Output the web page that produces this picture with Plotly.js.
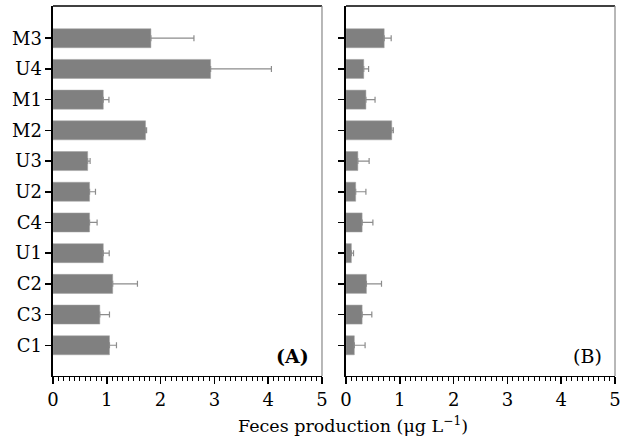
<!DOCTYPE html>
<html><head><meta charset="utf-8">
<script src="https://cdn.plot.ly/plotly-3.0.1.min.js"></script>
<style>body{margin:0;background:#fff}#chart{width:630px;height:440px}</style>
</head><body><div id="chart"></div>
<script>
const categories = ["C1","C3","C2","U1","C4","U2","U3","M2","M1","U4","M3"];
const valuesA = [1.05, 0.87, 1.11, 0.935, 0.68, 0.68, 0.645, 1.72, 0.935, 2.93, 1.82];
const errorsA = [0.13, 0.18, 0.46, 0.11, 0.14, 0.11, 0.045, 0.02, 0.105, 1.13, 0.80];
const valuesB = [0.155, 0.30, 0.38, 0.10, 0.30, 0.18, 0.22, 0.85, 0.37, 0.33, 0.71];
const errorsB = [0.20, 0.18, 0.28, 0.04, 0.20, 0.19, 0.21, 0.03, 0.17, 0.09, 0.13];
const xTicks = [0,1,2,3,4,5];

const barStyle = {color:'#808080', line:{color:'#a0a0a0', width:0.5}};
const errStyle = (arr)=>({type:'data', array:arr, arrayminus:arr.map(()=>0), symmetric:false, visible:true, color:'#8c8c8c', thickness:1.2, width:3});

const traces = [
  {type:'bar', orientation:'h', y:categories, x:valuesA, marker:barStyle, error_x:errStyle(errorsA), xaxis:'x', yaxis:'y', hoverinfo:'none'},
  {type:'bar', orientation:'h', y:categories, x:valuesB, marker:barStyle, error_x:errStyle(errorsB), xaxis:'x2', yaxis:'y2', hoverinfo:'none'}
];

const fontSerif = 'DejaVu Serif, Liberation Serif, serif';
const xax = (dom)=>({
  domain:dom, range:[0,5], tickvals:xTicks, ticktext:xTicks.map(String),
  showline:true, linecolor:'#000', linewidth:1.5, ticks:'outside', ticklen:7, tickwidth:1.5, tickcolor:'#000',
  minor:{dtick:0.1, ticks:'outside', ticklen:4, tickwidth:1, tickcolor:'#000'},
  showgrid:false, zeroline:false, tickfont:{family:fontSerif, size:18, color:'#000'}, fixedrange:true
});
const yax = (showLabels, anchor)=>({
  domain:[0.1455, 0.9864], type:'category', categoryorder:'array', categoryarray:categories,
  range:[-1, 11.05], showline:true, linecolor:'#000', linewidth:1.5, ticks:'outside', ticklen:6, tickwidth:1.5, tickcolor:'#000',
  showticklabels:showLabels, showgrid:false, zeroline:false, anchor:anchor,
  tickfont:{family:fontSerif, size:18, color:'#000'}, fixedrange:true
});

const layout = {
  width:630, height:440, margin:{l:0,r:0,t:0,b:0},
  paper_bgcolor:'#fff', plot_bgcolor:'#fff', showlegend:false, bargap:0.38,
  xaxis: Object.assign(xax([0.0841,0.5111]), {anchor:'y'}),
  yaxis: yax(true,'x'),
  xaxis2: Object.assign(xax([0.5492,0.9762]), {anchor:'y2'}),
  yaxis2: yax(false,'x2'),
  shapes:[
    {type:'line', xref:'x domain', yref:'y domain', x0:0, x1:1, y0:1, y1:1, line:{color:'#000', width:1.5}},
    {type:'line', xref:'x domain', yref:'y domain', x0:1, x1:1, y0:0, y1:1, line:{color:'#888', width:1.2}},
    {type:'line', xref:'x2 domain', yref:'y2 domain', x0:0, x1:1, y0:1, y1:1, line:{color:'#000', width:1.5}},
    {type:'line', xref:'x2 domain', yref:'y2 domain', x0:1, x1:1, y0:0, y1:1, line:{color:'#888', width:1.2}}
  ],
  annotations:[
    {text:'<b>(A)</b>', xref:'x domain', yref:'y domain', x:0.96, y:0.02, xanchor:'right', yanchor:'bottom', showarrow:false, font:{family:fontSerif, size:19, color:'#000'}},
    {text:'(B)', xref:'x2 domain', yref:'y2 domain', x:0.96, y:0.02, xanchor:'right', yanchor:'bottom', showarrow:false, font:{family:fontSerif, size:19, color:'#000'}},
    {text:'Feces production (μg L<sup>−1</sup>)', xref:'paper', yref:'paper', x:0.56, y:0.035, xanchor:'center', yanchor:'middle', showarrow:false, font:{family:fontSerif, size:17.5, color:'#000'}}
  ]
};
Plotly.newPlot('chart', traces, layout, {displayModeBar:false, staticPlot:true});
</script>
</body></html>
